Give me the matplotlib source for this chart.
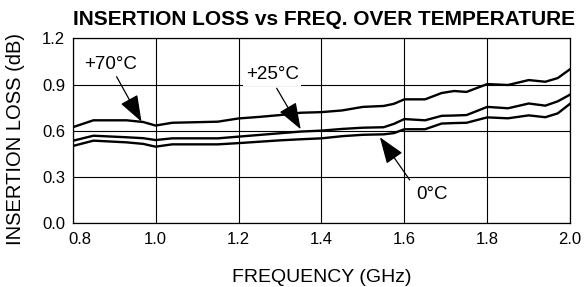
import matplotlib
matplotlib.use("Agg")
import matplotlib.pyplot as plt
import matplotlib.transforms as mtransforms

# ============================== Data ==============================
freq_ghz = [0.80, 0.85, 0.93, 0.97, 1.00, 1.04, 1.15, 1.20, 1.25, 1.30, 1.35, 1.40, 1.45, 1.50,
            1.55, 1.575, 1.60, 1.65, 1.69, 1.72, 1.75, 1.80, 1.85, 1.90, 1.94, 1.97, 2.00]

loss_70c = [0.623, 0.668, 0.668, 0.657, 0.634, 0.652, 0.659, 0.680, 0.690, 0.702, 0.717, 0.721, 0.732, 0.755,
            0.761, 0.775, 0.804, 0.804, 0.845, 0.858, 0.852, 0.903, 0.897, 0.929, 0.918, 0.942, 1.000]
loss_25c = [0.535, 0.568, 0.558, 0.552, 0.540, 0.551, 0.551, 0.562, 0.573, 0.584, 0.595, 0.601, 0.612, 0.620,
            0.623, 0.645, 0.676, 0.668, 0.697, 0.699, 0.702, 0.755, 0.746, 0.777, 0.763, 0.791, 0.835]
loss_0c = [0.501, 0.536, 0.525, 0.515, 0.497, 0.512, 0.512, 0.520, 0.529, 0.538, 0.545, 0.551, 0.565, 0.574,
           0.577, 0.585, 0.610, 0.610, 0.647, 0.650, 0.652, 0.687, 0.681, 0.700, 0.688, 0.713, 0.776]

x_ticks = [0.8, 1.0, 1.2, 1.4, 1.6, 1.8, 2.0]
y_ticks = [0.0, 0.3, 0.6, 0.9, 1.2]

# ============================== Plot ==============================
plt.rcParams["font.family"] = ["Liberation Sans", "DejaVu Sans"]

fig = plt.figure(figsize=(5.86, 2.87), dpi=100)
ax = fig.add_axes([0.124, 0.222, 0.849, 0.6446])

for loss in (loss_70c, loss_25c, loss_0c):
    ax.plot(freq_ghz, loss, color="black", lw=1.7, zorder=3, solid_joinstyle="round")

ax.set_xlim(0.8, 2.0)
ax.set_ylim(0.0, 1.2)
ax.set_xticks(x_ticks)
ax.set_yticks(y_ticks)
ax.set_xticklabels(["%.1f" % v for v in x_ticks])
ax.set_yticklabels(["%.1f" % v for v in y_ticks])
ax.tick_params(length=0, labelsize=12, colors="black")
ax.tick_params(axis="y", pad=5.5)
ax.tick_params(axis="x", pad=6)
ax.grid(True, color="black", lw=0.8)
ax.set_axisbelow(True)
for s in ax.spines.values():
    s.set_linewidth(0.9)
    s.set_color("black")

# first x label sits a bit right of its gridline in the original
first = ax.get_xticklabels()[0]
first.set_transform(first.get_transform() + mtransforms.ScaledTranslation(7 / 100, 0, fig.dpi_scale_trans))

# labels
arrow = dict(arrowstyle="-|>,head_length=1.65,head_width=0.6", mutation_scale=10,
             color="black", lw=0.9, shrinkA=0, shrinkB=0)
box = dict(facecolor="white", edgecolor="none", pad=2)

ax.text(0.892, 1.027, "+70°C", fontsize=13.5, ha="center", va="center", zorder=4)
ax.annotate("", xy=(0.966, 0.659), xytext=(0.906, 0.951), arrowprops=arrow, zorder=4)

ax.text(1.281, 0.962, "+25°C", fontsize=13.5, ha="center", va="center", bbox=box, zorder=4)
ax.annotate("", xy=(1.350, 0.610), xytext=(1.292, 0.876), arrowprops=arrow, zorder=4)

ax.text(1.667, 0.184, "0°C", fontsize=13.5, ha="center", va="center", bbox=box, zorder=4)
ax.annotate("", xy=(1.541, 0.558), xytext=(1.613, 0.281), arrowprops=arrow, zorder=4)

fig.text(324 / 586, 1 - 25 / 287, "INSERTION LOSS vs FREQ. OVER TEMPERATURE",
         fontsize=15, fontweight="bold", ha="center", va="baseline")
fig.text(322 / 586, 1 - 282 / 287, "FREQUENCY (GHz)", fontsize=14, ha="center", va="baseline")
fig.text(16 / 586, 1 - 139 / 287, "INSERTION LOSS (dB)", fontsize=14.5, rotation=90,
         ha="center", va="center")

plt.savefig("out.png", dpi=100)
plt.close()
